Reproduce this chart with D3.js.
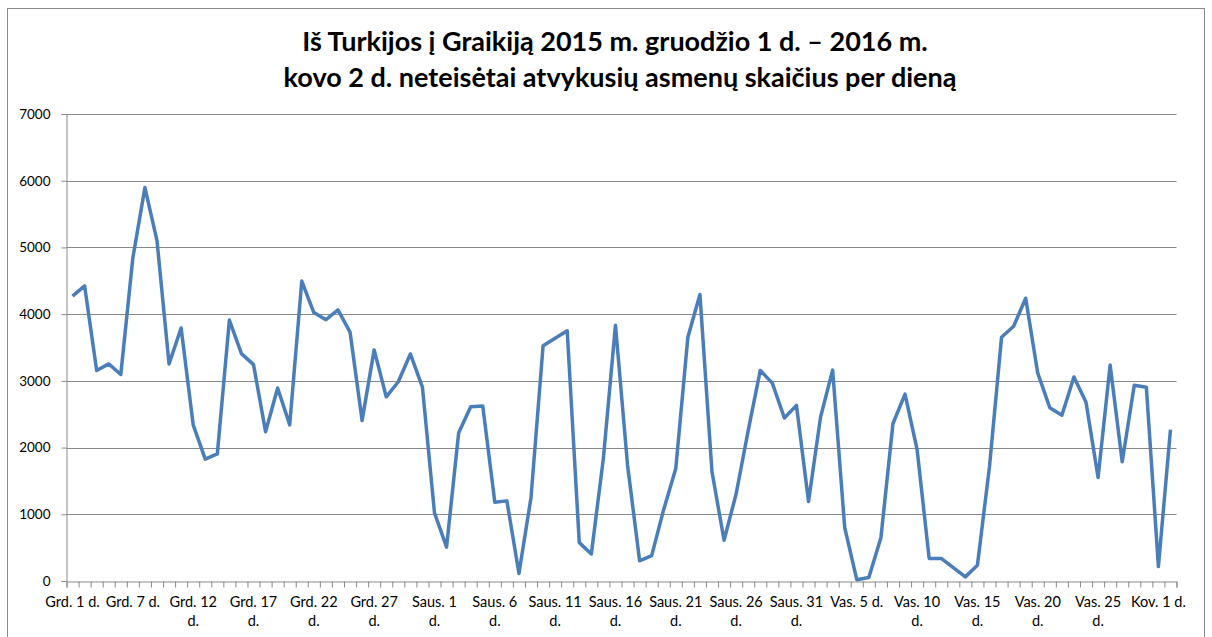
<!DOCTYPE html>
<html>
<head>
<meta charset="utf-8">
<script src="https://cdn.jsdelivr.net/npm/d3@7/dist/d3.min.js"></script>
<style>
	body { margin: 0; background: #fff; }
	svg text { font-family: Lato, "Open Sans", sans-serif; }
</style>
</head>
<body>
<div class="chart"></div>
<script>
	// data (one day between Dec 1 and Dec 7 is not present)
	var decDays = [1].concat(d3.range(3, 32)),
		janDays = d3.range(1, 32),
		febDays = d3.range(1, 30),
		marDays = [1, 2];

	var categories = [].concat(
		decDays.map(function(d) { return "Grd. " + d + " d."; }),
		janDays.map(function(d) { return "Saus. " + d + " d."; }),
		febDays.map(function(d) { return "Vas. " + d + " d."; }),
		marDays.map(function(d) { return "Kov. " + d + " d."; })
	);

	var values = [
		4270, 4424, 3156, 3254, 3095, 4845, 5897, 5101, 3254, 3793,
		2340, 1827, 1904, 3911, 3408, 3243, 2238, 2894, 2340, 4496,
		4023, 3916, 4065, 3731, 2407, 3464, 2761, 2987, 3403, 2905,
		1021, 508, 2217, 2612, 2622, 1180, 1201, 113, 1252, 3526,
		3640, 3751, 575, 405, 1842, 3834, 1740, 303, 380, 1073,
		1688, 3654, 4295, 1637, 611, 1304, 2253, 3156, 2966, 2443,
		2633, 1191, 2458, 3161, 801, 20, 51, 647, 2361, 2802,
		1971, 339, 339, 200, 62, 236, 1714, 3654, 3818, 4239,
		3115, 2597, 2484, 3059, 2679, 1550, 3238, 1786, 2935, 2905,
		216, 2268
	];

	var tickLabels = [
		"Grd. 1 d.", "Grd. 7 d.", "Grd. 12 d.", "Grd. 17 d.", "Grd. 22 d.", "Grd. 27 d.",
		"Saus. 1 d.", "Saus. 6 d.", "Saus. 11 d.", "Saus. 16 d.", "Saus. 21 d.", "Saus. 26 d.",
		"Saus. 31 d.", "Vas. 5 d.", "Vas. 10 d.", "Vas. 15 d.", "Vas. 20 d.", "Vas. 25 d.",
		"Kov. 1 d."
	];

	var yTicks = d3.range(0, 7001, 1000);

	var titleLines = [
		"Iš Turkijos į Graikiją 2015 m. gruodžio 1 d. – 2016 m.",
		"kovo 2 d. neteisėtai atvykusių asmenų skaičius per dieną"
	];

	// svg surface
	var width = 1212,
		height = 637;
	var plot = {left: 66.5, right: 1176.5, top: 114, bottom: 581};

	var svg = d3.select(".chart").append("svg")
		.attr("width", width)
		.attr("height", height);

	// chart border
	svg.append("rect")
		.attr("x", 7.5)
		.attr("y", 8.5)
		.attr("width", 1197)
		.attr("height", 640)
		.attr("fill", "none")
		.attr("stroke", "#8c8c8c")
		.attr("stroke-width", 1);

	// scales
	var x = d3.scaleBand()
		.domain(categories)
		.range([plot.left, plot.right]);

	var xi = d3.scaleLinear()
		.domain([0, categories.length])
		.range([plot.left, plot.right]);

	var y = d3.scaleLinear()
		.domain([0, 7000])
		.range([plot.bottom, plot.top]);

	// title
	svg.append("g").selectAll("text")
		.data(titleLines)
		.enter().append("text")
		.attr("x", function(d, i) { return 615 + i * 5; })
		.attr("y", function(d, i) { return 51 + i * 36; })
		.attr("text-anchor", "middle")
		.attr("font-size", "27px")
		.attr("font-weight", "bold")
		.attr("fill", "#000")
		.text(function(d) { return d; });

	// gridlines
	svg.append("g").selectAll("line")
		.data(yTicks.filter(function(d) { return d > 0; }))
		.enter().append("line")
		.attr("x1", plot.left)
		.attr("x2", plot.right)
		.attr("y1", function(d) { return Math.round(y(d)) + 0.5; })
		.attr("y2", function(d) { return Math.round(y(d)) + 0.5; })
		.attr("stroke", "#8a8a8a")
		.attr("stroke-width", 1);

	// y axis
	var yAxis = svg.append("g")
		.attr("transform", "translate(" + plot.left + ",0)")
		.call(d3.axisLeft(y).tickValues(yTicks).tickSize(5).tickPadding(11).tickFormat(d3.format("d")));
	yAxis.selectAll("path, line").attr("stroke", "#8a8a8a");
	yAxis.selectAll("text")
		.attr("font-size", "13.5px")
		.attr("fill", "#000")
		.style("font-family", "Lato, sans-serif");

	// x axis tick marks at category boundaries
	var xAxis = svg.append("g")
		.attr("transform", "translate(0," + (Math.round(plot.bottom) + 0.5) + ")")
		.call(d3.axisBottom(xi).tickValues(d3.range(categories.length + 1)).tickSize(6).tickFormat(""));
	xAxis.selectAll("path, line").attr("stroke", "#8a8a8a");

	// x axis labels, every 5th category
	var labelGroup = svg.append("g");
	tickLabels.forEach(function(lbl) {
		var cx = x(lbl) + x.bandwidth() / 2;
		var t = labelGroup.append("text")
			.attr("x", cx)
			.attr("y", 607)
			.attr("text-anchor", "middle")
			.attr("font-size", "14.5px")
			.attr("fill", "#000")
			.text(lbl);
		// longer labels don't fit their slot, so the "d." goes to a second line
		if (lbl.length > 9) {
			var parts = lbl.split(" ");
			t.text(null);
			t.append("tspan").attr("x", cx).text(parts[0] + " " + parts[1]);
			t.append("tspan").attr("x", cx).attr("dy", 19).text(parts[2]);
		}
	});

	// the line
	var line = d3.line()
		.x(function(d, i) { return x(categories[i]) + x.bandwidth() / 2; })
		.y(function(d) { return y(d); });

	svg.append("path")
		.datum(values)
		.attr("d", line)
		.attr("fill", "none")
		.attr("stroke", "#4a7ebb")
		.attr("stroke-width", 3.5)
		.attr("stroke-linejoin", "round");
</script>
</body>
</html>
